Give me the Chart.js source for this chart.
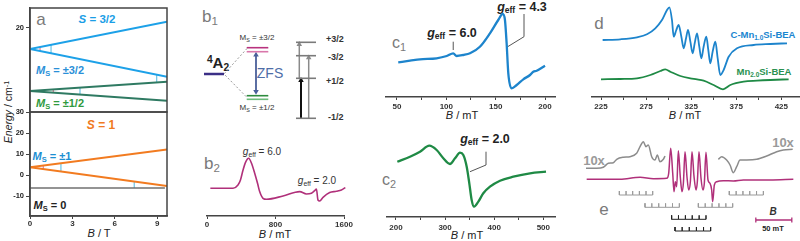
<!DOCTYPE html>
<html lang="en">
<head>
<meta charset="UTF-8">
<title>EPR panels</title>
<script src="https://cdn.jsdelivr.net/npm/chart.js"></script>
<style>
  body { margin: 0; background: #fff; font-family: "Liberation Sans", Arial, sans-serif; }
  #fig { position: relative; width: 800px; height: 241px; overflow: hidden; }
  canvas { position: absolute; }
  .t { position: absolute; transform: translate(-50%, -50%); white-space: nowrap; line-height: 1; color: #222; }
  .l { transform: translate(0, -50%); }
  .pl { color: #7a7a7a; font-size: 17px; }
  .b { font-weight: bold; }
  sub, sup { font-size: 0.68em; line-height: 0; }
  sub { vertical-align: -0.3em; }
  sup { vertical-align: 0.45em; }
</style>
</head>
<body>
<div id="fig">
  <!-- panel a -->
  <div class="t pl" style="left:41px;top:19px">a</div>
  <div class="t b" style="left:97px;top:20px;font-size:11.5px;color:#1a9ee6"><i>S</i> = 3/2</div>
  <div class="t b" style="left:60px;top:70px;font-size:11px;color:#2a90d8"><i>M</i><sub>S</sub> = ±3/2</div>
  <div class="t b" style="left:60px;top:103px;font-size:11px;color:#2f9a3e"><i>M</i><sub>S</sub> = ±1/2</div>
  <div class="t b" style="left:101px;top:125px;font-size:12px;color:#f07a22"><i>S</i> = 1</div>
  <div class="t b" style="left:52px;top:156px;font-size:11px;color:#1d8fd2"><i>M</i><sub>S</sub> = ±1</div>
  <div class="t b" style="left:50px;top:205px;font-size:11px;color:#222"><i>M</i><sub>S</sub> = 0</div>
  <div class="t" style="left:99px;top:233px;font-size:11px"><i>B</i> / T</div>
  <div class="t" style="left:8px;top:112px;font-size:10.5px;transform:translate(-50%,-50%) rotate(-90deg)"><i>Energy</i> / cm<sup>-1</sup></div>

  <!-- panel b1 -->
  <div class="t pl" style="left:210px;top:16px">b<sub>1</sub></div>
  <div class="t b" style="left:218px;top:62px;font-size:15px"><sup>4</sup>A<sub>2</sub></div>
  <div class="t" style="left:257px;top:38px;font-size:8px;color:#333">M<sub>S</sub> = ±3/2</div>
  <div class="t" style="left:257px;top:108px;font-size:8px;color:#333">M<sub>S</sub> = ±1/2</div>
  <div class="t" style="left:270px;top:73px;font-size:14px;color:#4f6ea8">ZFS</div>
  <div class="t l b" style="left:326px;top:39px;font-size:9px;color:#333">+3/2</div>
  <div class="t l b" style="left:328px;top:57px;font-size:9px;color:#333">-3/2</div>
  <div class="t l b" style="left:326px;top:81px;font-size:9px;color:#333">+1/2</div>
  <div class="t l b" style="left:328px;top:117px;font-size:9px;color:#333">-1/2</div>

  <!-- panel b2 -->
  <div class="t pl" style="left:212px;top:163px">b<sub>2</sub></div>
  <div class="t" style="left:262px;top:152px;font-size:10px;color:#333"><i>g</i><sub>eff</sub> = 6.0</div>
  <div class="t" style="left:317px;top:181px;font-size:10px;color:#333"><i>g</i><sub>eff</sub> = 2.0</div>
  <div class="t" style="left:275px;top:234px;font-size:11px"><i>B</i> / mT</div>

  <!-- panel c -->
  <div class="t pl" style="left:399px;top:43px;font-size:16px">c<sub>1</sub></div>
  <div class="t b" style="left:452px;top:33px;font-size:12.5px"><i>g</i><sub>eff</sub> = 6.0</div>
  <div class="t b" style="left:522px;top:7px;font-size:12.5px"><i>g</i><sub>eff</sub> = 4.3</div>
  <div class="t" style="left:462px;top:115px;font-size:11px"><i>B</i> / mT</div>
  <div class="t pl" style="left:389px;top:180px;font-size:16px">c<sub>2</sub></div>
  <div class="t b" style="left:485px;top:139px;font-size:12.5px"><i>g</i><sub>eff</sub> = 2.0</div>
  <div class="t" style="left:467px;top:235px;font-size:11px"><i>B</i> / mT</div>

  <!-- panel d -->
  <div class="t pl" style="left:599px;top:23px">d</div>
  <div class="t b" style="left:763px;top:35px;font-size:9.5px;color:#1a86d0">C-Mn<sub>1.0</sub>Si-BEA</div>
  <div class="t b" style="left:764px;top:72px;font-size:9.5px;color:#2a9150">Mn<sub>2.0</sub>Si-BEA</div>
  <div class="t" style="left:685px;top:115px;font-size:11px"><i>B</i> / mT</div>

  <!-- panel e -->
  <div class="t b" style="left:594px;top:160px;font-size:13px;color:#9a9a9a">10x</div>
  <div class="t b" style="left:783px;top:142px;font-size:13px;color:#9a9a9a">10x</div>
  <div class="t pl" style="left:604px;top:209px">e</div>
  <div class="t b" style="left:773px;top:212px;font-size:10px;color:#333"><i>B</i></div>
  <div class="t b" style="left:773px;top:229px;font-size:7.5px">50 mT</div>
</div>

<script>
// ---- panel a: Zeeman diagrams (B in T) ----
const aB = [0, 9.7];
const s32Up = [15.0, 21.5], s32Low = [15.0, 8.4];
const s12Up = [5.0, 7.2], s12Low = [5.0, 2.7];
const s1Up = [3.7, 12.1], s1Low = [3.7, -5.2];
const ms0B = [0, 9.55], ms0 = [-6.2, -6.2];
const aTopTicks = [20], aBotTicks = [-10, 0, 10, 20, 30], aBTicks = [0, 3, 6, 9];
// transition markers: field, lower and upper level
const topPinkB = [0.71, 1.65], topPinkLo = [14.52, 4.61], topPinkHi = [15.48, 5.37];
const topBlueB = [1.49, 8.97, 3.54], topBlueLo = [13.99, 7.04, 4.16], topBlueHi = [16.0, 8.9, 5.8];
const botPinkB = [0.94], botPinkLo = [2.84], botPinkHi = [4.51];
const botBlueB = [2.19, 7.38], botBlueLo = [1.69, -6.2], botBlueHi = [5.6, -3.07];

// ---- panel b1: level scheme (diagram units) ----
const a2X = [4, 24], a2Y = [56, 56];
const splitX = [47, 24, 47], splitY = [81.5, 56, 32.5];
const zfsX = [46.7, 68.3];
const m32Y = [82.3, 78.3], m12Y = [34.3, 30.7];
const zfsArrowX = [56, 56], zfsArrowY = [38.5, 75];
const ladderX = [96, 116], ladderY = [87.7, 74.3, 51.7, 11.7];
const arrowX = [99.3, 101, 108.7], arrowFrom = [51.7, 11.7, 11.7], arrowTo = [85.7, 49.7, 72.3];

// ---- panel b2 (B in mT) ----
const b2B = [39, 304, 362, 390, 421, 450, 487, 520, 557, 590, 615, 654, 694, 888, 1083, 1161, 1219, 1258, 1278, 1296, 1316, 1355, 1433, 1511, 1570, 1616];
const b2I = [0, 0, 3.3, 8, 18.3, 26, 30, 25, 15, 5, -3.3, -10, -11, -7.7, -3.3, -5.7, -5, -2.3, -0.7, -11.7, -12.7, -9, -4.3, -3, -1.7, 0.7];
const b2Ticks = [0, 800, 1600];

// ---- panel c1 ----
const c1B = [51.3, 63.2, 73.3, 90.2, 100.4, 107, 110.5, 117.2, 124, 134, 144.2, 152.6, 157.1, 159.4, 161.1, 162.8, 166.2, 171.3, 178, 184.8, 188.1, 191.5, 200];
const c1I = [-2.3, -0.7, 0.7, 1.7, 4, 6.7, 4, 5, 6.7, 13.3, 26.7, 40, 46, 40, 16.7, -13.3, -28.3, -25, -19.3, -15, -11.7, -10.7, -5.7];
const c1PtrA_B = [107, 107], c1PtrA_I = [10, 18.3];
const c1PtrB_B = [162.2, 178.7, 178.7], c1PtrB_I = [13.3, 23.3, 46];
const c1Ticks = [50, 75, 100, 125, 150, 175, 200], c1Labels = [50, 100, 150, 200];

// ---- panel c2 ----
const c2B = [202.7, 228.5, 248.9, 267.9, 282.8, 296.4, 310, 320.2, 330.3, 337.1, 344, 349.3, 354.1, 358.9, 367.7, 377.8, 391.4, 411.8, 438.9, 472.9, 505.5];
const c2I = [18.3, 23.3, 28.3, 34.3, 30, 21.7, 16, 21.7, 27.3, 25, 13.3, -3.3, -20, -26.7, -21.7, -13.3, -6.7, -0.7, 3.3, 6.7, 8.3];
const c2PtrB = [350.7, 383.3, 383.3], c2PtrI = [8.3, 15, 28.3];
const c2Ticks = [200, 250, 300, 350, 400, 450, 500], c2Labels = [200, 300, 400, 500];

// ---- panel d ----
const dBlueB = [226.8, 246.4, 264.9, 276, 285.2, 292.6, 298.2, 300.8, 303.7, 305.6, 308.5, 311.1, 314.1, 316.7, 319.3, 321.5, 324.1, 326.6, 328.9, 331.5, 334, 336.3, 338.8, 341.8, 344, 346.2, 348.8, 351.8, 354.4, 357.3, 361, 366.6, 375.8, 394.3, 412.8, 431.3];
const dBlueI = [20, 20.7, 22.7, 25.7, 31.7, 40, 50, 52.7, 40, 23.3, 30, 35, 23.3, 11.7, 21.7, 30, 18.3, 6.7, 16.7, 26.7, 13.3, 1.7, 13.3, 23.3, 10, -3.3, 8.3, 18.3, 1.7, -15, -10, 3.3, 11.7, 15, 16, 16.7];
const dGreenB = [225, 246.4, 264.9, 279.7, 290.8, 296.3, 301.9, 313, 324.1, 331.5, 338.8, 349.9, 360.3, 368.4, 383.2, 398, 412.8, 433.1];
const dGreenI = [-19.3, -19, -18.3, -15, -11, -9.3, -11.7, -16, -18.3, -19.3, -20.7, -25, -29.3, -25, -21.7, -20.7, -20, -19.3];
const dTicks = [225, 250, 275, 300, 325, 350, 375, 400, 425], dLabels = [225, 275, 325, 375, 425];

// ---- panel e ----
const eB = [205.1, 251.4, 279.2, 297.7, 316.2, 319, 321.8, 324.6, 326.4, 328.2, 330.1, 332.4, 335.1, 337.5, 339.4, 341.7, 344.4, 346.8, 349.1, 351.4, 354.2, 357, 358.8, 361.1, 363.9, 366.7, 368.5, 370.8, 373.6, 376.4, 378.7, 380.1, 382.4, 385.7, 394.9, 408.8, 422.7, 459.7, 492.1];
const eI = [0.7, 0.7, 2.7, 1.3, 1.7, 6.7, 31.7, 6.7, -11.7, -1.7, -6.7, 29.3, 3.3, -11.7, -3.3, 28.3, 3.3, -10, -1.7, 28.3, 3.3, -10, -1.7, 28.3, 1.7, -10, -3.3, 27.7, 0, -3.3, -10, -21.7, -5, -1.7, -0.7, -1, 0, 0, 0.7];
const eLeftB = [204.2, 219, 228.2, 235.2, 242.1, 246.8, 256, 265.3, 274.5, 279.2, 283.8, 287.5, 290.7, 295.4, 300, 303.2, 306.9, 311.6, 313.9];
const eLeftI = [11.7, 11.7, 12.7, 16.7, 17.3, 20.7, 22.7, 23.3, 26.7, 33.3, 38.3, 33.3, 35, 23.3, 20, 25, 18.3, 20.7, 24];
const eRightB = [388, 392.6, 399.5, 404.2, 408.8, 413.4, 418.1, 427.3, 441.2, 455.1, 469, 478.2, 491.2];
const eRightI = [20.7, 23.3, 20, 15, 7.3, 13.3, 20, 20, 20.7, 24, 28.3, 30, 30.7];
const greyCombs = [
  [250.5, 259.8, 269.0, 278.3, 287.5, 296.8],
  [286.1, 295.6, 305.2, 314.7, 324.3, 333.8],
  [403.2, 412.7, 422.1, 431.6, 441.0, 450.5],
  [360.2, 369.7, 379.3, 388.8, 398.4, 407.9]
];
const greyCombY = [-15, -27.3, -15, -27.3];
const blackCombs = [
  [323.1, 332.6, 342.2, 351.7, 361.3, 370.8],
  [327.8, 337.7, 347.6, 357.5, 367.4, 377.3]
];
const blackCombY = [-39.3, -51];
const combTick = 4;
const scaleBarB = [440, 490], scaleBarY = -40, scaleBarCap = 2.6;

// ---------------------------------------------------------------
Chart.defaults.font.family = '"Liberation Sans", Arial, sans-serif';
Chart.defaults.color = '#222';
Chart.defaults.animation = false;
Chart.defaults.events = [];
Chart.defaults.plugins.legend.display = false;
Chart.defaults.plugins.tooltip.enabled = false;

const pts = (xs, ys) => xs.map((x, i) => ({ x, y: ys[i] }));
const flat = (xs, y) => xs.map(x => ({ x, y }));

// vertical segments split by null gaps
function sticks(xs, lo, hi) {
  const out = [];
  xs.forEach((x, i) => out.push({ x, y: lo[i] }, { x, y: hi[i] }, { x, y: null }));
  return out;
}

// stick spectrum: baseline with upward ticks
function combs(list, ys, h) {
  const out = [];
  list.forEach((c, k) => {
    const y = ys[k];
    c.forEach((x, i) => {
      out.push({ x, y: y + h }, { x, y });
      if (i < c.length - 1) out.push({ x: c[i + 1], y });
    });
    out.push({ x: c[c.length - 1], y: null });
  });
  return out;
}

const ds = (data, color, width, o = {}) => Object.assign({
  data, borderColor: color, backgroundColor: color, borderWidth: width,
  pointRadius: 0, tension: 0, fill: false, spanGaps: false
}, o);
const smooth = { cubicInterpolationMode: 'monotone' };

const frame = {
  id: 'frame',
  afterDraw(c) {
    const { ctx, chartArea: a } = c;
    ctx.save();
    ctx.strokeStyle = '#444';
    ctx.lineWidth = 1.5;
    ctx.strokeRect(a.left, a.top, a.right - a.left, a.bottom - a.top);
    ctx.restore();
  }
};

function xAxis(min, max, ticks, labels, pad, h) {
  return {
    type: 'linear', min, max,
    afterBuildTicks: s => { s.ticks = ticks.map(v => ({ value: v })); },
    afterFit: s => { s.height = h; },
    border: { color: '#444', width: 1.5 },
    grid: { drawOnChartArea: false, tickLength: 3, color: '#444' },
    ticks: {
      autoSkip: false, maxRotation: 0, padding: pad, color: '#333',
      font: { size: 8, weight: 'bold' },
      callback: v => labels.includes(v) ? String(v) : ''
    }
  };
}
function yAxis(min, max, ticks) {
  return {
    type: 'linear', position: 'left', min, max,
    afterBuildTicks: s => { s.ticks = ticks.map(v => ({ value: v })); },
    afterFit: s => { s.width = 22; },
    border: { color: '#444', width: 1.5 },
    grid: { drawOnChartArea: false, tickLength: 4, color: '#444' },
    ticks: { padding: 2, color: '#222', font: { size: 7.5, weight: 'bold' }, callback: v => String(v) }
  };
}
const hidden = (min, max) => ({ type: 'linear', display: false, min, max });

const M = 20;
function panel(area, datasets, scales, yw = 0, xh = 0, plugins = []) {
  const cv = document.createElement('canvas');
  const w = area.w + 2 * M + yw, h = area.h + 2 * M + xh;
  cv.width = w; cv.height = h;
  cv.style.left = (area.x - M - yw) + 'px';
  cv.style.top = (area.y - M) + 'px';
  document.getElementById('fig').appendChild(cv);
  return new Chart(cv, {
    type: 'line',
    data: { datasets },
    options: { responsive: false, layout: { padding: M }, scales },
    plugins
  });
}

const BLUE = '#1d84cc', GREEN = '#1f8a45', MAG = '#b0307a', GREY = '#8c8c8c';
const LBLUE = '#1da1e8', TEAL = '#2f7a62', ORANGE = '#f27b20';
const MARK_BLUE = '#6cc4e4', MARK_PINK = '#e07a9a';

// a, top: S = 3/2
panel({ x: 30, y: 8, w: 137, h: 104 }, [
  ds(pts(aB, s32Up), LBLUE, 2),
  ds(pts(aB, s32Low), LBLUE, 2),
  ds(pts(aB, s12Up), TEAL, 2),
  ds(pts(aB, s12Low), TEAL, 2),
  ds(sticks(topBlueB, topBlueLo, topBlueHi), MARK_BLUE, 1.2),
  ds(sticks(topPinkB, topPinkLo, topPinkHi), MARK_PINK, 1.2)
], { x: hidden(0, 9.7), y: yAxis(0, 24.76, aTopTicks) }, 22, 0, [frame]);

// a, bottom: S = 1
panel({ x: 30, y: 112, w: 137, h: 104 }, [
  ds(pts(aB, s1Up), ORANGE, 2),
  ds(pts(aB, s1Low), ORANGE, 2),
  ds(pts(ms0B, ms0), '#707070', 1.6),
  ds(sticks(botBlueB, botBlueLo, botBlueHi), MARK_BLUE, 1.2),
  ds(sticks(botPinkB, botPinkLo, botPinkHi), MARK_PINK, 1.2)
], { x: xAxis(0, 9.7, aBTicks, aBTicks, 0, 14), y: yAxis(-19.5, 30, aBotTicks) }, 22, 14, [frame]);

// b1: level scheme
const arrowSets = arrowX.map((x, i) => ds(
  [{ x, y: arrowFrom[i] }, { x, y: arrowTo[i] }],
  i === 1 ? '#111' : '#8a8a8a', i === 1 ? 2 : 1.5,
  { pointStyle: 'triangle', pointRadius: [0, 3.2], pointBorderWidth: 0 }
));
panel({ x: 200, y: 0, w: 150, h: 130 }, [
  ds(pts(a2X, a2Y), '#3b2f86', 2.5),
  ds(pts(splitX, splitY), '#999', 1, { borderDash: [2, 2] }),
  ds(flat(zfsX, m32Y[0]), '#b8327e', 1.6),
  ds(flat(zfsX, m32Y[1]), '#d977ab', 1.6),
  ds(flat(zfsX, m12Y[0]), '#2e8b3e', 1.6),
  ds(flat(zfsX, m12Y[1]), '#6cbb7b', 1.6),
  ds(pts(zfsArrowX, zfsArrowY), '#4a5f99', 1.8,
    { pointStyle: 'triangle', pointRadius: 3.2, pointRotation: [180, 0], pointBorderWidth: 0 }),
  ...ladderY.map(y => ds(flat(ladderX, y), '#7a7a7a', 1.6)),
  ...arrowSets
], { x: hidden(0, 150), y: hidden(0, 130) });

// b2
panel({ x: 207, y: 140, w: 137, h: 76 }, [
  ds(pts(b2B, b2I), MAG, 1.6, Object.assign({ clip: false }, smooth))
], { x: xAxis(0, 1600, b2Ticks, b2Ticks, 1, 14), y: hidden(-27.7, 48.3) }, 0, 14);

// c1
panel({ x: 386, y: 0, w: 169, h: 97 }, [
  ds(pts(c1B, c1I), BLUE, 2.3, smooth),
  ds(pts(c1PtrA_B, c1PtrA_I), '#555', 1),
  ds(pts(c1PtrB_B, c1PtrB_I), '#555', 1)
], { x: xAxis(38.9, 210.1, c1Ticks, c1Labels, 2, 16), y: hidden(-37, 60) }, 0, 16);

// c2
panel({ x: 387, y: 120, w: 168, h: 97 }, [
  ds(pts(c2B, c2I), GREEN, 2.3, smooth),
  ds(pts(c2PtrB, c2PtrI), '#555', 1)
], { x: xAxis(181.7, 523.8, c2Ticks, c2Labels, 3, 16), y: hidden(-37, 60) }, 0, 16);

// d
panel({ x: 592, y: 0, w: 208, h: 97 }, [
  ds(pts(dBlueB, dBlueI), BLUE, 1.8, smooth),
  ds(pts(dGreenB, dGreenI), GREEN, 1.8, smooth)
], { x: xAxis(215, 445.7, dTicks, dLabels, 2, 16), y: hidden(-37, 60) }, 0, 16);

// e
const barData = [
  { x: scaleBarB[0], y: scaleBarY + scaleBarCap }, { x: scaleBarB[0], y: scaleBarY - scaleBarCap },
  { x: scaleBarB[0], y: scaleBarY }, { x: scaleBarB[1], y: scaleBarY },
  { x: scaleBarB[1], y: scaleBarY + scaleBarCap }, { x: scaleBarB[1], y: scaleBarY - scaleBarCap }
];
panel({ x: 583, y: 130, w: 214, h: 110 }, [
  ds(pts(eLeftB, eLeftI), GREY, 1.5, smooth),
  ds(pts(eRightB, eRightI), GREY, 1.5, smooth),
  ds(pts(eB, eI), MAG, 1.5, smooth),
  ds(combs(greyCombs, greyCombY, combTick), '#9a9a9a', 1),
  ds(combs(blackCombs, blackCombY, combTick), '#222', 1),
  ds(barData, MAG, 1.3)
], { x: hidden(200, 497.2), y: hidden(-60, 50) });
</script>
</body>
</html>
